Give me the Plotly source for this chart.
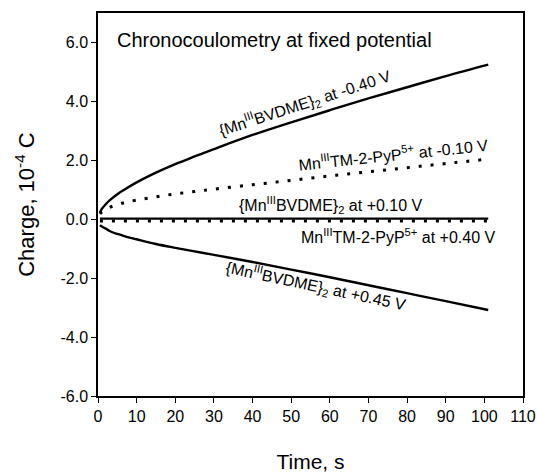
import plotly.graph_objects as go

# Time axis (s) and charge traces (10^-4 C)
time_s = [0.5, 1, 2, 3, 5, 7, 10, 15, 20, 25, 30, 40, 50, 60, 70, 80, 90, 101]

bvdme_m040 = [0.22, 0.35, 0.51, 0.64, 0.85, 1.02, 1.25, 1.58, 1.87, 2.13, 2.38, 2.86, 3.29, 3.70, 4.10, 4.48, 4.86, 5.25]
pyp_m010 = [0.18, 0.25, 0.33, 0.40, 0.50, 0.57, 0.65, 0.76, 0.86, 0.94, 1.02, 1.17, 1.32, 1.47, 1.61, 1.75, 1.89, 2.04]
bvdme_p010 = [0.02, 0.02, 0.02, 0.02, 0.02, 0.02, 0.02, 0.02, 0.02, 0.02, 0.02, 0.02, 0.02, 0.02, 0.02, 0.02, 0.02, 0.02]
pyp_p040 = [-0.06, -0.06, -0.06, -0.06, -0.06, -0.06, -0.06, -0.06, -0.06, -0.06, -0.06, -0.06, -0.06, -0.06, -0.06, -0.06, -0.06, -0.06]
bvdme_p045 = [-0.20, -0.25, -0.32, -0.40, -0.50, -0.58, -0.68, -0.84, -0.97, -1.09, -1.21, -1.45, -1.71, -1.97, -2.24, -2.51, -2.78, -3.08]

x_ticks = list(range(0, 111, 10))
y_ticks = [-6, -4, -2, 0, 2, 4, 6]
y_tick_text = ["-6.0", "-4.0", "-2.0", "0.0", "2.0", "4.0", "6.0"]

FONT = "Liberation Sans, Arial, sans-serif"
INK = "black"

fig = go.Figure()

solid = dict(color=INK, width=2.4)
dotted = dict(color=INK, width=3, dash="3px,9px")

fig.add_trace(go.Scatter(x=time_s, y=bvdme_m040, mode="lines", line=solid, line_shape="spline"))
fig.add_trace(go.Scatter(x=time_s, y=pyp_m010, mode="lines", line=dotted, line_shape="spline"))
fig.add_trace(go.Scatter(x=time_s, y=bvdme_p010, mode="lines", line=solid))
fig.add_trace(go.Scatter(x=time_s, y=pyp_p040, mode="lines", line=dotted))
fig.add_trace(go.Scatter(x=time_s, y=bvdme_p045, mode="lines", line=solid, line_shape="spline"))

labels = [
    ("{Mn<sup>III</sup>BVDME}<sub>2</sub> at -0.40 V", 53.5, 3.95, -18),
    ("Mn<sup>III</sup>TM-2-PyP<sup>5+</sup> at -0.10 V", 76.4, 2.22, -6),
    ("{Mn<sup>III</sup>BVDME}<sub>2</sub> at +0.10 V", 60.3, 0.48, 0),
    ("Mn<sup>III</sup>TM-2-PyP<sup>5+</sup> at +0.40 V", 77.6, -0.57, 0),
    ("{Mn<sup>III</sup>BVDME}<sub>2</sub> at +0.45 V", 56.4, -2.28, 12),
]
for text, lx, ly, ang in labels:
    fig.add_annotation(x=lx, y=ly, xref="x", yref="y", text=text, showarrow=False,
                       textangle=ang, xanchor="center", yanchor="middle",
                       font=dict(family=FONT, size=16, color=INK))

fig.add_annotation(x=4.4, y=6.08, xref="x", yref="y", text="Chronocoulometry at fixed potential",
                   showarrow=False, xanchor="left", yanchor="middle",
                   font=dict(family=FONT, size=20, color=INK))

axis_common = dict(
    showline=True, linecolor=INK, linewidth=1.5, mirror=True,
    ticks="outside", ticklen=5, tickwidth=1.2, tickcolor=INK,
    showgrid=False, zeroline=False, automargin=False,
    tickfont=dict(family=FONT, size=16, color=INK),
)

fig.update_layout(
    width=537, height=473,
    margin=dict(l=98, r=14, t=13, b=77),
    paper_bgcolor="white", plot_bgcolor="white",
    showlegend=False,
    font=dict(family=FONT, color=INK),
    xaxis=dict(range=[0, 110], tickvals=x_ticks,
               title=dict(text="Time, s", font=dict(family=FONT, size=21, color=INK), standoff=32),
               **axis_common),
    yaxis=dict(range=[-6, 7], tickvals=y_ticks, ticktext=y_tick_text,
               title=dict(text="Charge, 10<sup>-4</sup> C", font=dict(family=FONT, size=22, color=INK), standoff=20),
               **axis_common),
)

fig.write_html("out.html")
